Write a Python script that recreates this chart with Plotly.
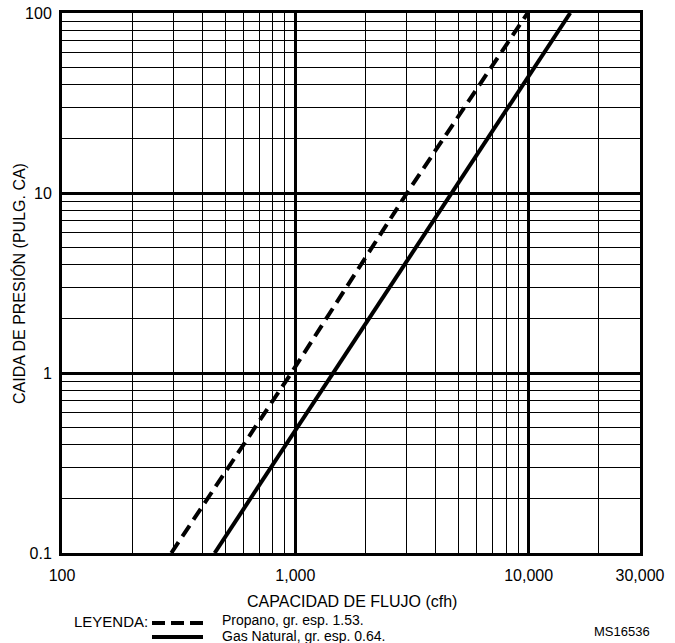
import plotly.graph_objects as go

# Data (flow capacity cfh vs pressure drop in. w.c.)
propano_q = [294, 961, 3010, 9900]
propano_p = [0.1, 1, 10, 100]
gas_q = [451, 1453, 4628, 15070]
gas_p = [0.1, 1, 10, 100]

x_ticks = [100, 1000, 10000, 30000]
x_ticklabels = ["100", "1,000", "10,000", "30,000"]
y_ticks = [0.1, 1, 10, 100]
y_ticklabels = ["0.1", "1", "10", "100"]
x_minor = [200, 300, 400, 500, 600, 700, 800, 900,
           2000, 3000, 4000, 5000, 6000, 7000, 8000, 9000, 20000]
y_minor = [0.2, 0.3, 0.4, 0.5, 0.6, 0.7, 0.8, 0.9,
           2, 3, 4, 5, 6, 7, 8, 9,
           20, 30, 40, 50, 60, 70, 80, 90]

FONT = "Liberation Sans, Arial, sans-serif"
W, H = 675, 643
L, R, T, B = 62, 35, 13, 90
PW, PH = W - L - R, H - T - B


def px(x):
    return (x - L) / PW


def py(y):
    return (H - B - y) / PH


fig = go.Figure()
fig.add_trace(go.Scatter(x=propano_q, y=propano_p, mode="lines",
                         line=dict(color="black", width=4, dash="13px,7px"),
                         showlegend=False, hoverinfo="skip"))
fig.add_trace(go.Scatter(x=gas_q, y=gas_p, mode="lines",
                         line=dict(color="black", width=4),
                         showlegend=False, hoverinfo="skip"))

fig.update_xaxes(type="log", range=[2, 4.4771], tickmode="array",
                 tickvals=x_ticks, ticktext=x_ticklabels,
                 showgrid=True, gridcolor="black", gridwidth=2.5,
                 minor=dict(tickmode="array", tickvals=x_minor, showgrid=True,
                            gridcolor="black", gridwidth=1.2, ticks=""),
                 showline=True, mirror=True, linecolor="black", linewidth=3,
                 ticks="outside", ticklen=6, tickcolor="rgba(0,0,0,0)",
                 tickfont=dict(family=FONT, size=16, color="black"),
                 zeroline=False, automargin=False)
fig.update_yaxes(type="log", range=[-1, 2], tickmode="array",
                 tickvals=y_ticks, ticktext=y_ticklabels,
                 showgrid=True, gridcolor="black", gridwidth=2.5,
                 minor=dict(tickmode="array", tickvals=y_minor, showgrid=True,
                            gridcolor="black", gridwidth=1.2, ticks=""),
                 showline=True, mirror=True, linecolor="black", linewidth=3,
                 ticks="outside", ticklen=4, tickcolor="rgba(0,0,0,0)",
                 tickfont=dict(family=FONT, size=16, color="black"),
                 zeroline=False, automargin=False)

annos = [
    dict(text="CAIDA DE PRESIÓN (PULG. CA)", x=px(19), y=py(284), textangle=-90,
         xanchor="center", yanchor="middle", font=dict(size=16)),
    dict(text="CAPACIDAD DE FLUJO (cfh)", x=px(352), y=py(601),
         xanchor="center", yanchor="middle", font=dict(size=16)),
    dict(text="LEYENDA:", x=px(149), y=py(621),
         xanchor="right", yanchor="middle", font=dict(size=15)),
    dict(text="Propano, gr. esp. 1.53.", x=px(221), y=py(620),
         xanchor="left", yanchor="middle", font=dict(size=14)),
    dict(text="Gas Natural, gr. esp. 0.64.", x=px(221), y=py(636),
         xanchor="left", yanchor="middle", font=dict(size=14)),
    dict(text="MS16536", x=px(622), y=py(631),
         xanchor="center", yanchor="middle", font=dict(size=13)),
]
for a in annos:
    a.update(xref="paper", yref="paper", showarrow=False, borderpad=0)
    a["font"].update(family=FONT, color="black")
    fig.add_annotation(**a)

fig.add_shape(type="line", xref="paper", yref="paper",
              x0=px(152), x1=px(203), y0=py(623), y1=py(623),
              line=dict(color="black", width=4, dash="13px,6px"))
fig.add_shape(type="line", xref="paper", yref="paper",
              x0=px(152), x1=px(203), y0=py(637), y1=py(637),
              line=dict(color="black", width=4))

fig.update_layout(width=W, height=H, margin=dict(l=L, r=R, t=T, b=B),
                  plot_bgcolor="white", paper_bgcolor="white",
                  font=dict(family=FONT, color="black"))

fig.write_html("out.html")
